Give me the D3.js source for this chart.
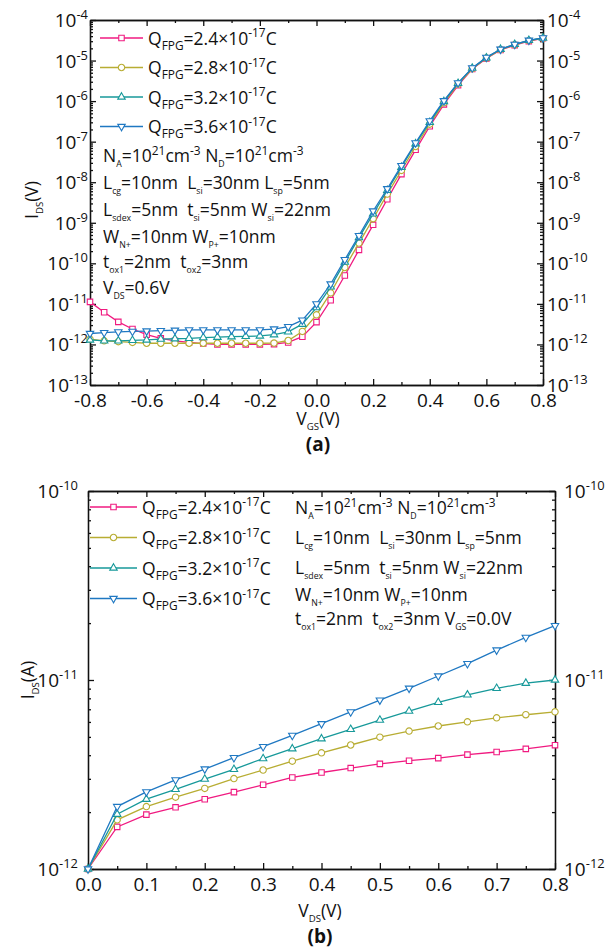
<!DOCTYPE html>
<html>
<head>
<meta charset="utf-8">
<script src="https://cdn.jsdelivr.net/npm/d3@7"></script>
<style>
  body { margin: 0; background: #fff; }
  svg { display: block; }
  text { font-family: "Open Sans", sans-serif; fill: #111; white-space: pre; }
</style>
</head>
<body>
<svg id="chart" width="610" height="950"></svg>
<script>
// ---- data (a): Ids vs Vgs at Vds = 0.6V ----
const seriesLabels = ["2.4", "2.8", "3.2", "3.6"];
const seriesColors = ["#f01a80", "#b8ad33", "#17999a", "#1f78c2"];
const seriesSymbols = ["square", "circle", "triUp", "triDown"];

const vgs = [-0.8, -0.75, -0.7, -0.65, -0.6, -0.55, -0.5, -0.45, -0.4, -0.35, -0.3, -0.25, -0.2, -0.15, -0.1, -0.05,
             0, 0.05, 0.1, 0.15, 0.2, 0.25, 0.3, 0.35, 0.4, 0.45, 0.5, 0.55, 0.6, 0.65, 0.7, 0.75, 0.8];
const idsA24 = [1.12e-11, 6.2e-12, 3.6e-12, 2.4e-12, 1.74e-12, 1.41e-12, 1.23e-12, 1.12e-12, 1.05e-12, 1.0e-12, 1.0e-12,
                1.0e-12, 1.0e-12, 1.02e-12, 1.12e-12, 1.55e-12, 3.55e-12, 1.23e-11, 5.0e-11, 2.14e-10, 8.9e-10, 3.8e-9,
                1.58e-8, 6.3e-8, 2.4e-7, 8.3e-7, 2.45e-6, 6.2e-6, 1.12e-5, 1.82e-5, 2.4e-5, 3.0e-5, 3.55e-5];
const idsA28 = [1.35e-12, 1.23e-12, 1.17e-12, 1.12e-12, 1.07e-12, 1.07e-12, 1.07e-12, 1.07e-12, 1.07e-12, 1.07e-12, 1.07e-12,
                1.07e-12, 1.07e-12, 1.08e-12, 1.25e-12, 2.09e-12, 5.37e-12, 1.86e-11, 7.9e-11, 3.16e-10, 1.26e-9, 5.1e-9,
                1.95e-8, 7.6e-8, 2.7e-7, 9.1e-7, 2.63e-6, 6.3e-6, 1.15e-5, 1.86e-5, 2.45e-5, 3.1e-5, 3.55e-5];
const idsA32 = [1.29e-12, 1.23e-12, 1.23e-12, 1.26e-12, 1.29e-12, 1.35e-12, 1.38e-12, 1.41e-12, 1.48e-12, 1.51e-12, 1.55e-12,
                1.58e-12, 1.62e-12, 1.74e-12, 2.04e-12, 3.16e-12, 8.1e-12, 2.63e-11, 1.07e-10, 4.3e-10, 1.66e-9, 6.3e-9,
                2.34e-8, 8.9e-8, 3.0e-7, 9.8e-7, 2.75e-6, 6.5e-6, 1.17e-5, 1.9e-5, 2.5e-5, 3.16e-5, 3.6e-5];
const idsA36 = [1.86e-12, 1.95e-12, 2.04e-12, 2.09e-12, 2.14e-12, 2.19e-12, 2.24e-12, 2.29e-12, 2.29e-12, 2.29e-12, 2.29e-12,
                2.29e-12, 2.29e-12, 2.4e-12, 2.75e-12, 3.98e-12, 1.0e-11, 3.09e-11, 1.23e-10, 4.8e-10, 1.95e-9, 6.9e-9,
                2.57e-8, 9.3e-8, 3.24e-7, 1.02e-6, 2.82e-6, 6.6e-6, 1.2e-5, 1.9e-5, 2.5e-5, 3.16e-5, 3.63e-5];

// ---- data (b): Ids vs Vds at Vgs = 0.0V ----
const vds = [0, 0.05, 0.1, 0.15, 0.2, 0.25, 0.3, 0.35, 0.4, 0.45, 0.5, 0.55, 0.6, 0.65, 0.7, 0.75, 0.8];
const idsB24 = [1e-12, 1.67e-12, 1.94e-12, 2.12e-12, 2.34e-12, 2.55e-12, 2.79e-12, 3.05e-12, 3.24e-12,
                3.42e-12, 3.6e-12, 3.74e-12, 3.86e-12, 4.03e-12, 4.16e-12, 4.32e-12, 4.52e-12];
const idsB28 = [1e-12, 1.82e-12, 2.14e-12, 2.4e-12, 2.67e-12, 3.01e-12, 3.34e-12, 3.72e-12, 4.12e-12,
                4.53e-12, 4.98e-12, 5.37e-12, 5.71e-12, 6.01e-12, 6.31e-12, 6.55e-12, 6.79e-12];
const idsB32 = [1e-12, 1.95e-12, 2.34e-12, 2.64e-12, 2.99e-12, 3.37e-12, 3.84e-12, 4.33e-12, 4.89e-12,
                5.48e-12, 6.14e-12, 6.85e-12, 7.62e-12, 8.34e-12, 9.04e-12, 9.62e-12, 1.0e-11];
const idsB36 = [1e-12, 2.14e-12, 2.56e-12, 2.96e-12, 3.38e-12, 3.88e-12, 4.44e-12, 5.09e-12, 5.87e-12,
                6.78e-12, 7.83e-12, 9.04e-12, 1.05e-11, 1.22e-11, 1.44e-11, 1.68e-11, 1.94e-11];

// tick labels
const xTicksA = [-0.8, -0.6, -0.4, -0.2, 0.0, 0.2, 0.4, 0.6, 0.8];
const xMinorA = [-0.7, -0.5, -0.3, -0.1, 0.1, 0.3, 0.5, 0.7];
const yTicksA = [1e-13, 1e-12, 1e-11, 1e-10, 1e-9, 1e-8, 1e-7, 1e-6, 1e-5, 1e-4];
const xTicksB = [0.0, 0.1, 0.2, 0.3, 0.4, 0.5, 0.6, 0.7, 0.8];
const xMinorB = [0.05, 0.15, 0.25, 0.35, 0.45, 0.55, 0.65, 0.75];
const yTicksB = [1e-12, 1e-11, 1e-10];

const paramsA = [
  "N_{A}=10^{21}cm^{-3} N_{D}=10^{21}cm^{-3}",
  "L_{cg}=10nm  L_{si}=30nm L_{sp}=5nm",
  "L_{sdex}=5nm  t_{si}=5nm W_{si}=22nm",
  "W_{N+}=10nm W_{P+}=10nm",
  "t_{ox1}=2nm  t_{ox2}=3nm",
  "V_{DS}=0.6V"
];
const paramsB = [
  "N_{A}=10^{21}cm^{-3} N_{D}=10^{21}cm^{-3}",
  "L_{cg}=10nm  L_{si}=30nm L_{sp}=5nm",
  "L_{sdex}=5nm  t_{si}=5nm W_{si}=22nm",
  "W_{N+}=10nm W_{P+}=10nm",
  "t_{ox1}=2nm  t_{ox2}=3nm V_{GS}=0.0V"
];

const svg = d3.select("#chart");

// Write "a_{b}^{c}" style strings as tspans
function richText(t, str, fs, subScale) {
  const parts = str.match(/_\{[^}]*\}|\^\{[^}]*\}|[^_^]+/g);
  let shift = 0;
  parts.forEach(function(p) {
    let txt = p, s = 0, size = fs;
    if (p[0] === "_") { txt = p.slice(2, -1); s = fs * 0.3; size = fs * (subScale || 0.6); }
    else if (p[0] === "^") { txt = p.slice(2, -1); s = -fs * 0.42; size = fs * 0.68; }
    t.append("tspan").attr("dy", s - shift).attr("font-size", size).text(txt);
    shift = s;
  });
  return t;
}

function markerPath(kind) {
  if (kind === "square") return d3.symbol().type(d3.symbolSquare).size(30)();
  if (kind === "circle") return d3.symbol().type(d3.symbolCircle).size(32)();
  return d3.symbol().type(d3.symbolTriangle).size(24)();
}

function logMinors(lo, hi) {
  let out = [];
  for (let e = lo; e < hi; e++) for (let k = 2; k <= 9; k++) out.push(k * Math.pow(10, e));
  return out;
}

function drawPanel(p) {
  const g = svg.append("g");
  const x = d3.scaleLinear().domain(p.xDomain).range([p.left, p.right]);
  const y = d3.scaleLog().domain(p.yDomain).range([p.bottom, p.top]);
  const yMinor = logMinors(Math.round(Math.log10(p.yDomain[0])), Math.round(Math.log10(p.yDomain[1])));

  // axes on all four sides, ticks pointing in
  const axes = [
    [d3.axisBottom(x).tickValues(p.xTicks).tickFormat(d => d.toFixed(1)).tickPadding(9), "translate(0," + p.bottom + ")", true],
    [d3.axisBottom(x).tickValues(p.xMinor).tickFormat(""), "translate(0," + p.bottom + ")", false],
    [d3.axisTop(x).tickValues(p.xTicks).tickFormat(""), "translate(0," + p.top + ")", true],
    [d3.axisTop(x).tickValues(p.xMinor).tickFormat(""), "translate(0," + p.top + ")", false],
    [d3.axisLeft(y).tickValues(p.yTicks).tickFormat(""), "translate(" + p.left + ",0)", true],
    [d3.axisLeft(y).tickValues(yMinor).tickFormat(""), "translate(" + p.left + ",0)", false],
    [d3.axisRight(y).tickValues(p.yTicks).tickFormat(""), "translate(" + p.right + ",0)", true],
    [d3.axisRight(y).tickValues(yMinor).tickFormat(""), "translate(" + p.right + ",0)", false]
  ];
  axes.forEach(function(a) {
    const ax = g.append("g")
      .attr("transform", a[1])
      .call(a[0].tickSizeInner(a[2] ? -6 : -3).tickSizeOuter(0));
    ax.selectAll("path, line").attr("stroke", "#111").attr("stroke-width", 1.3);
    ax.selectAll("text").attr("font-size", 19).attr("font-family", "Open Sans").attr("fill", "#111");
  });

  // log labels on left and right
  p.yTicks.forEach(function(v) {
    const lab = "10^{" + Math.round(Math.log10(v)) + "}";
    richText(g.append("text").attr("x", p.left - p.leftGap).attr("y", y(v) + 7)
      .attr("text-anchor", "end"), lab, 19);
    richText(g.append("text").attr("x", p.right + p.rightGap).attr("y", y(v) + 7), lab, 19);
  });

  // series lines and markers
  const line = d3.line().x(d => x(d[0])).y(d => y(d[1]));
  p.series.forEach(function(vals, i) {
    const pts = p.xs.map((xv, j) => [xv, vals[j]]);
    g.append("path").datum(pts)
      .attr("d", line)
      .attr("fill", "none")
      .attr("stroke", seriesColors[i])
      .attr("stroke-width", 1.3);
    g.selectAll(null).data(pts).enter().append("path")
      .attr("d", markerPath(seriesSymbols[i]))
      .attr("transform", d => "translate(" + x(d[0]) + "," + y(d[1]) + ")" + (seriesSymbols[i] === "triDown" ? " rotate(180)" : ""))
      .attr("fill", "#fff")
      .attr("stroke", seriesColors[i])
      .attr("stroke-width", 1.1);
  });

  // legend
  seriesLabels.forEach(function(s, i) {
    const ly = p.legend.y + i * p.legend.dy;
    g.append("line")
      .attr("x1", p.legend.x).attr("x2", p.legend.x + p.legend.len)
      .attr("y1", ly).attr("y2", ly)
      .attr("stroke", seriesColors[i]).attr("stroke-width", 1.3);
    g.append("path")
      .attr("d", markerPath(seriesSymbols[i]))
      .attr("transform", "translate(" + (p.legend.x + p.legend.len / 2) + "," + ly + ")" + (seriesSymbols[i] === "triDown" ? " rotate(180)" : ""))
      .attr("fill", "#fff").attr("stroke", seriesColors[i]).attr("stroke-width", 1.1);
    richText(g.append("text").attr("x", p.legend.x + p.legend.len + 5).attr("y", ly + 6.5),
      "Q_{FPG}=" + s + "×10^{-17}C", 17.5, 0.68);
  });

  // device parameters
  p.params.forEach(function(s, i) {
    richText(g.append("text").attr("x", p.paramX).attr("y", p.paramY[i]), s, 17.5, 0.5);
  });

  // axis titles and panel tag
  richText(g.append("text")
    .attr("transform", "translate(" + p.yTitle[0] + "," + p.yTitle[1] + ") rotate(-90)")
    .attr("text-anchor", "middle"), p.yTitle[2], 17.5, 0.55);
  richText(g.append("text").attr("x", p.xTitle[0]).attr("y", p.xTitle[1])
    .attr("text-anchor", "middle"), p.xTitle[2], 17.5, 0.55);
  g.append("text").attr("x", p.tag[0]).attr("y", p.tag[1])
    .attr("text-anchor", "middle")
    .attr("font-family", "Liberation Serif, serif")
    .attr("font-weight", "bold").attr("font-size", 19)
    .text(p.tag[2]);
}

drawPanel({
  left: 90, right: 543, top: 20, bottom: 385,
  xDomain: [-0.8, 0.8], yDomain: [1e-13, 1e-4],
  xTicks: xTicksA, xMinor: xMinorA, yTicks: yTicksA,
  leftGap: 2, rightGap: 4,
  xs: vgs, series: [idsA24, idsA28, idsA32, idsA36],
  legend: {x: 100, y: 38, dy: 29.5, len: 43},
  params: paramsA, paramX: 103, paramY: [162, 189, 216, 243, 268, 294],
  yTitle: [38, 200, "I_{DS}(V)"],
  xTitle: [318, 425, "V_{GS}(V)"],
  tag: [318, 451, "(a)"]
});

drawPanel({
  left: 88, right: 555, top: 491, bottom: 869,
  xDomain: [0, 0.8], yDomain: [1e-12, 1e-10],
  xTicks: xTicksB, xMinor: xMinorB, yTicks: yTicksB,
  leftGap: 10, rightGap: 9,
  xs: vds, series: [idsB24, idsB28, idsB32, idsB36],
  legend: {x: 90, y: 507, dy: 30.5, len: 47},
  params: paramsB, paramX: 295, paramY: [514, 544, 574, 601, 625],
  yTitle: [34, 680, "I_{DS}(A)"],
  xTitle: [320, 917, "V_{DS}(V)"],
  tag: [320, 943, "(b)"]
});
</script>
</body>
</html>
